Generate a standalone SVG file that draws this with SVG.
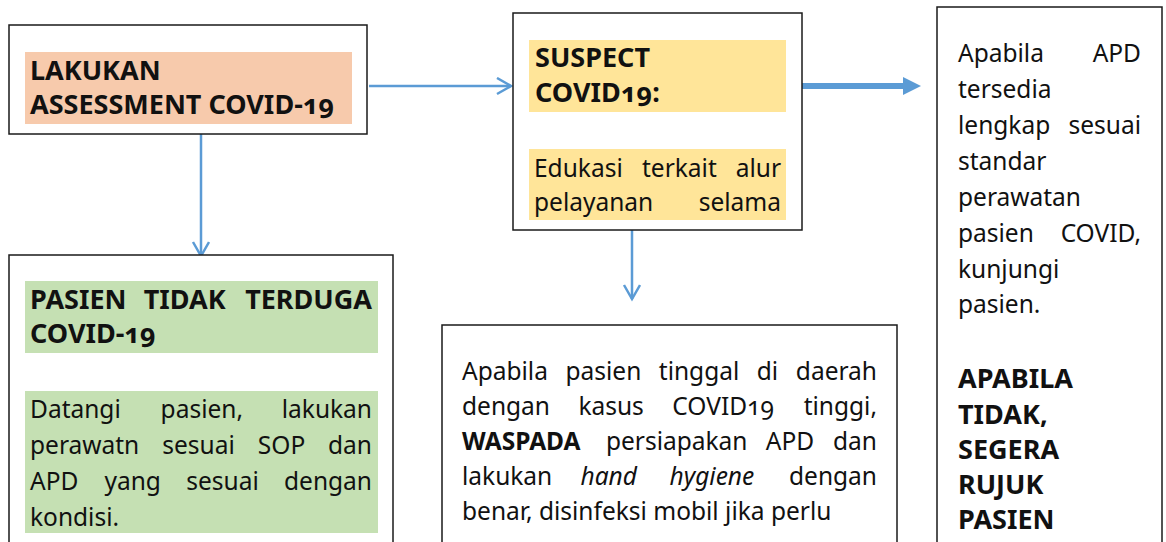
<svg xmlns="http://www.w3.org/2000/svg" width="1166" height="542" viewBox="0 0 1166 542">
<defs>
<style>
.box{fill:#fff;stroke:#1a1a1a;stroke-width:1.5}
.t{font-family:"Noto Sans","Open Sans","Liberation Sans",sans-serif;font-size:24.5px;fill:#111;font-variant-numeric:oldstyle-nums}
.b{font-weight:bold;font-size:27px}
.e{text-anchor:end}
.con{stroke:#5B9BD5;stroke-width:2.5;fill:none}
.thick{stroke:#5B9BD5;stroke-width:6;fill:none}
</style>
<marker id="open" markerWidth="20" markerHeight="20" refX="15" refY="9" orient="auto" markerUnits="userSpaceOnUse">
<path d="M1,1 L15,9 L1,17" fill="none" stroke="#5B9BD5" stroke-width="2.5"/>
</marker>
</defs>
<rect width="1166" height="542" fill="#fff"/>
<g id="connectors">
<line class="con" x1="369" y1="86" x2="511" y2="86" marker-end="url(#open)"/>
<line class="con" x1="201" y1="134" x2="201" y2="256" marker-end="url(#open)"/>
<line class="con" x1="632" y1="230" x2="632" y2="299" marker-end="url(#open)"/>
<line class="thick" x1="802" y1="86" x2="905" y2="86"/>
<polygon points="903,77 921,86 903,95" fill="#5B9BD5"/>
</g>
<g id="node-assessment">
<rect class="box" x="9" y="25" width="358" height="109"/>
<rect x="25" y="52" width="327" height="72" fill="#F7CAAC"/>
<text class="t b" x="30" y="80">LAKUKAN</text>
<text class="t b" x="30" y="114">ASSESSMENT COVID-19</text>
</g>
<g id="node-suspect">
<rect class="box" x="513" y="13" width="289" height="217"/>
<rect x="529" y="40" width="257" height="72" fill="#FFE599"/>
<text class="t b" x="535" y="67">SUSPECT</text>
<text class="t b" x="535" y="102">COVID19:</text>
<rect x="529" y="149" width="257" height="71" fill="#FFE599"/>
<text class="t" y="177"><tspan x="534">Edukasi</tspan><tspan x="642">terkait</tspan></text>
<text class="t e" x="781" y="177">alur</text>
<text class="t" x="534" y="211">pelayanan</text>
<text class="t e" x="781" y="211">selama</text>
</g>
<g id="node-apd">
<rect class="box" x="937" y="7" width="225" height="560"/>
<text class="t" x="958" y="62">Apabila</text>
<text class="t e" x="1141" y="62">APD</text>
<text class="t" x="958" y="98">tersedia</text>
<text class="t" x="958" y="134">lengkap</text>
<text class="t e" x="1141" y="134">sesuai</text>
<text class="t" x="958" y="170">standar</text>
<text class="t" x="958" y="206">perawatan</text>
<text class="t" x="958" y="242">pasien</text>
<text class="t e" x="1141" y="242">COVID,</text>
<text class="t" x="958" y="278">kunjungi</text>
<text class="t" x="958" y="313">pasien.</text>
<text class="t b" x="958" y="388">APABILA</text>
<text class="t b" x="958" y="424">TIDAK,</text>
<text class="t b" x="958" y="459">SEGERA</text>
<text class="t b" x="958" y="494">RUJUK</text>
<text class="t b" x="958" y="529">PASIEN</text>
</g>
<g id="node-tidak-terduga">
<rect class="box" x="9" y="255" width="384" height="320"/>
<rect x="25" y="281" width="353" height="72" fill="#C5E0B3"/>
<text class="t b" y="309"><tspan x="30">PASIEN</tspan><tspan x="143.7">TIDAK</tspan></text>
<text class="t b e" x="372" y="309">TERDUGA</text>
<text class="t b" x="30" y="343">COVID-19</text>
<rect x="25" y="391" width="353" height="142" fill="#C5E0B3"/>
<text class="t" y="418"><tspan x="30">Datangi</tspan><tspan x="160.6">pasien,</tspan></text>
<text class="t e" x="372" y="418">lakukan</text>
<text class="t" y="454"><tspan x="30">perawatn</tspan><tspan x="162.3">sesuai</tspan><tspan x="257.8">SOP</tspan></text>
<text class="t e" x="372" y="454">dan</text>
<text class="t" y="490"><tspan x="30">APD</tspan><tspan x="104.4">yang</tspan><tspan x="186.3">sesuai</tspan></text>
<text class="t e" x="372" y="490">dengan</text>
<text class="t" x="30" y="526">kondisi.</text>
</g>
<g id="node-waspada">
<rect class="box" x="442" y="325" width="455" height="250"/>
<text class="t" y="380"><tspan x="462">Apabila</tspan><tspan x="565.5">pasien</tspan><tspan x="658.8">tinggal</tspan><tspan x="756.8">di</tspan></text>
<text class="t e" x="877" y="380">daerah</text>
<text class="t" y="415"><tspan x="462">dengan</tspan><tspan x="578.4">kasus</tspan><tspan x="672.3">COVID19</tspan></text>
<text class="t e" x="877" y="415">tinggi,</text>
<text class="t" y="450"><tspan x="462" font-weight="bold">WASPADA</tspan><tspan x="605.9">persiapakan</tspan><tspan x="765.8">APD</tspan></text>
<text class="t e" x="877" y="450">dan</text>
<text class="t" y="485"><tspan x="462">lakukan</tspan><tspan x="580.5" font-style="italic">hand</tspan><tspan x="669.5" font-style="italic">hygiene</tspan></text>
<text class="t e" x="877" y="485">dengan</text>
<text class="t" x="462" y="520">benar, disinfeksi mobil jika perlu</text>
</g>
</svg>
